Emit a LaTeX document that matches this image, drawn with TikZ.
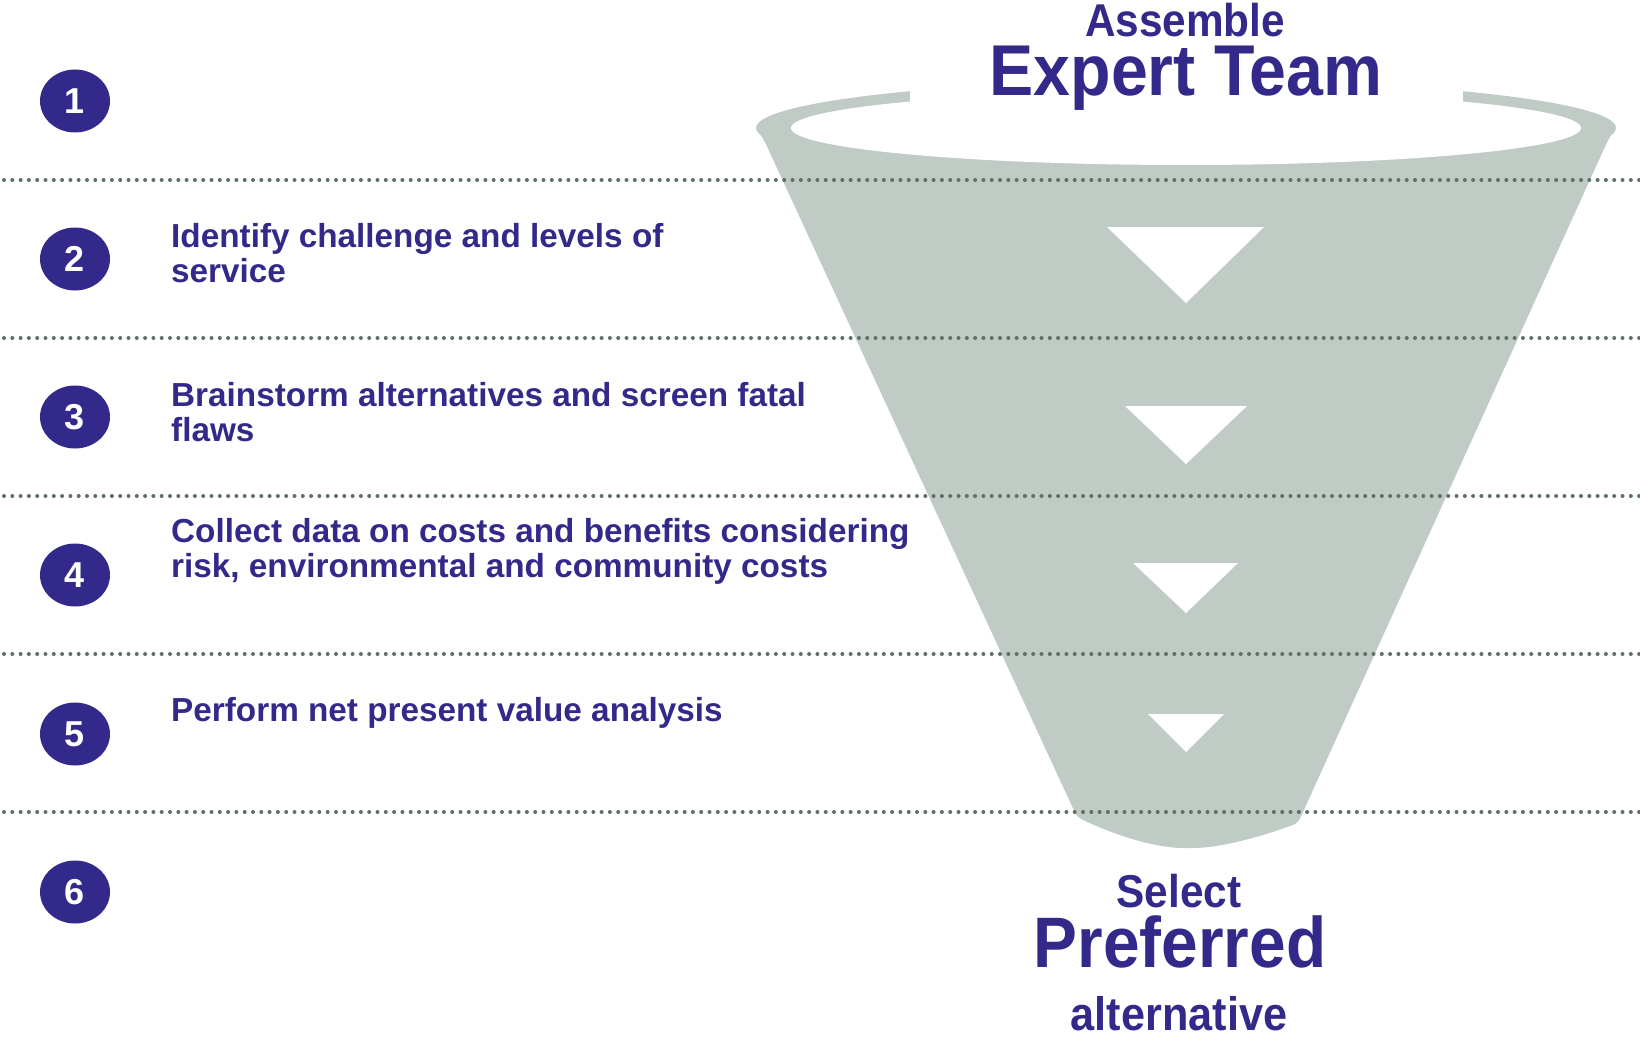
\documentclass[tikz,border=0pt]{standalone}
\usepackage{fontspec}
\setmainfont{Liberation Sans}
\newfontfamily\titlefont{Liberation Sans}[FakeStretch=0.92]
\usetikzlibrary{shapes.geometric}

\definecolor{stepBlue}{HTML}{33298A}
\definecolor{funnelGray}{HTML}{C1CBC6}
\definecolor{dotGray}{HTML}{5F7066}

\begin{document}
\begin{tikzpicture}[x=1pt, y=-1pt,
		stepCircle/.style={ellipse, fill=stepBlue, text=white, inner sep=0pt,
			minimum width=70pt, minimum height=63pt, font=\fontsize{36}{36}\selectfont\bfseries},
		stepText/.style={anchor=base west, align=left, inner sep=0pt, text=stepBlue,
			font=\fontsize{33.3}{35}\selectfont\bfseries},
		separator/.style={dotGray, line width=4pt, line cap=round, dash pattern=on 0pt off 8.3pt},
		arrowMark/.style={fill=white},
		funnelTitle/.style={anchor=base, inner sep=0pt, text=stepBlue}]
		
		\useasboundingbox (0,0) rectangle (1640,1038);
		
		%Funnel body
		\fill[funnelGray] (1186,128) ellipse [x radius=430, y radius=48];
		\fill[funnelGray, rounded corners=5pt] (756,128) -- (1616,128) -- (1608,140) -- (1298,823)
		.. controls (1258,838) and (1218,848) .. (1188,848)
		.. controls (1160,848) and (1120,838) .. (1077,817) -- (764,140) -- cycle;
		
		%Opening at the top
		\fill[white] (910,0) rectangle (1463,105);
		\fill[white] (1186,128) ellipse [x radius=395, y radius=37];
		
		%Arrows inside the funnel
		\fill[arrowMark] (1107,227) -- (1264,227) -- (1186,303) -- cycle;
		\fill[arrowMark] (1125,406) -- (1247,406) -- (1186,464) -- cycle;
		\fill[arrowMark] (1133,563) -- (1238,563) -- (1186,613) -- cycle;
		\fill[arrowMark] (1148,714) -- (1224,714) -- (1186,752) -- cycle;
		
		%Separators
		\draw[separator] (4,180) -- (1640,180);
		\draw[separator] (4,338) -- (1640,338);
		\draw[separator] (4,496) -- (1640,496);
		\draw[separator] (4,654) -- (1640,654);
		\draw[separator] (4,812) -- (1640,812);
		
		%Steps (two-line texts sit on the baseline of their last line)
		\node (firstStep) at (75,101) [stepCircle]{1};
		
		\node (secondStep) at (75,259) [stepCircle]{2};
		\node (secondStepText) at (171,282) [stepText]{Identify challenge and levels of\\service};
		
		\node (thirdStep) at (75,417) [stepCircle]{3};
		\node (thirdStepText) at (171,441) [stepText]{Brainstorm alternatives and screen fatal\\flaws};
		
		\node (fourthStep) at (75,575) [stepCircle]{4};
		\node (fourthStepText) at (171,577) [stepText]{Collect data on costs and benefits considering\\risk, environmental and community costs};
		
		\node (fifthStep) at (75,734) [stepCircle]{5};
		\node (fifthStepText) at (171,721) [stepText]{Perform net present value analysis};
		
		\node (sixthStep) at (75,892) [stepCircle]{6};
		
		%Top of the funnel
		\node (assembleText) at (1185,37) [funnelTitle, font=\titlefont\fontsize{46}{46}\selectfont\bfseries]{Assemble};
		\node (expertTeamText) at (1186,96) [funnelTitle, font=\titlefont\fontsize{72}{72}\selectfont\bfseries]{Expert Team};
		
		%Bottom of the funnel
		\node (selectText) at (1179,907) [funnelTitle, font=\titlefont\fontsize{46}{46}\selectfont\bfseries]{Select};
		\node (preferredText) at (1180,967) [funnelTitle, font=\titlefont\fontsize{71.5}{71.5}\selectfont\bfseries]{Preferred};
		\node (alternativeText) at (1179,1030) [funnelTitle, font=\titlefont\fontsize{47}{47}\selectfont\bfseries]{alternative};
		
	\end{tikzpicture}
\end{document}
